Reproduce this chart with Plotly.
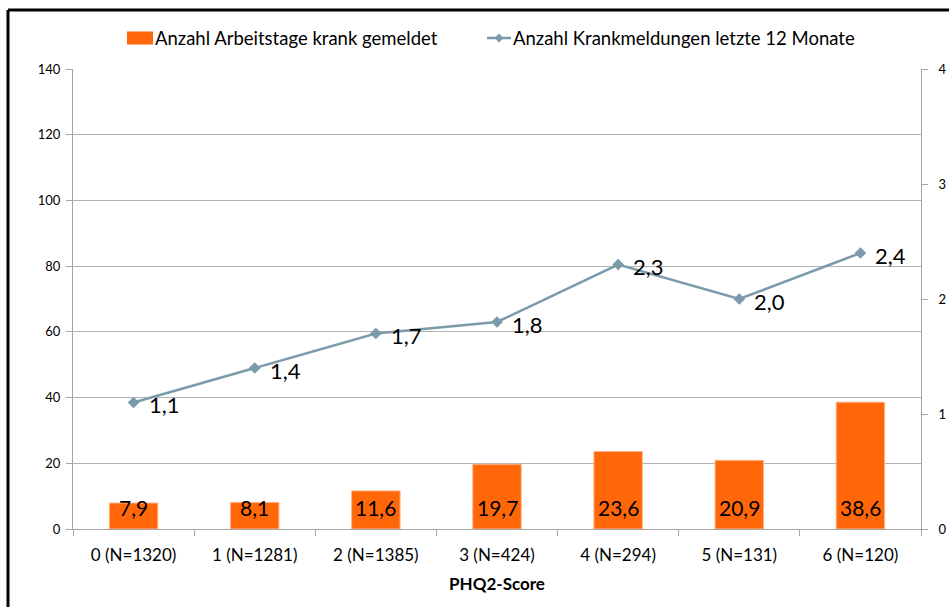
import plotly.graph_objects as go

# PHQ2 score groups with group sizes
categories = ["0 (N=1320)", "1 (N=1281)", "2 (N=1385)", "3 (N=424)",
              "4 (N=294)", "5 (N=131)", "6 (N=120)"]
sick_days = [7.9, 8.1, 11.6, 19.7, 23.6, 20.9, 38.6]
sick_notes = [1.1, 1.4, 1.7, 1.8, 2.3, 2.0, 2.4]
left_ticks = [0, 20, 40, 60, 80, 100, 120, 140]
right_ticks = [0, 1, 2, 3, 4]

name_days = "Anzahl Arbeitstage krank gemeldet"
name_notes = "Anzahl Krankmeldungen letzte 12 Monate"

FONT = "Lato, Carlito, 'Liberation Sans', sans-serif"
BAR_COLOR = "#FF6708"
LINE_COLOR = "#7B9BAB"


def de(v):
    return f"{v:.1f}".replace(".", ",")


fig = go.Figure()
fig.add_trace(go.Bar(
    x=categories, y=sick_days, name=name_days,
    marker=dict(color=BAR_COLOR, line=dict(color="#FFB38A", width=1)),
    width=0.4, yaxis="y", showlegend=False,
))
fig.add_trace(go.Scatter(
    x=categories, y=sick_notes, name=name_notes, yaxis="y2",
    mode="lines+markers", showlegend=False,
    line=dict(color=LINE_COLOR, width=2.5),
    marker=dict(symbol="diamond", size=9, color=LINE_COLOR),
))

annotations = []
# value labels at the base of each bar
for c, v in zip(categories, sick_days):
    annotations.append(dict(
        x=c, y=0, xref="x", yref="y", text=de(v), showarrow=False,
        yanchor="bottom", yshift=7, font=dict(size=21, color="black", family=FONT),
    ))
# value labels to the right of each line marker
for c, v in zip(categories, sick_notes):
    annotations.append(dict(
        x=c, y=v, xref="x", yref="y2", text=de(v), showarrow=False,
        xanchor="left", yanchor="middle", xshift=13, yshift=-2,
        font=dict(size=22, color="black", family=FONT),
    ))

# page geometry (pixels) and helpers to place items in paper coordinates
W, H = 949, 607
ml, mr, mt, mb = 73, 28, 69, 78
pw, ph = W - ml - mr, H - mt - mb


def px(x):
    return (x - ml) / pw


def py(y):
    return (H - mb - y) / ph


# frame lines along the top and left edges
shapes = [
    dict(type="line", xref="paper", yref="paper", x0=px(8), x1=px(949),
         y0=py(10), y1=py(10), line=dict(color="black", width=3)),
    dict(type="line", xref="paper", yref="paper", x0=px(8), x1=px(8),
         y0=py(10), y1=py(607), line=dict(color="black", width=3)),
]

# legend row across the top
leg_y = 38
shapes.append(dict(type="rect", xref="paper", yref="paper",
                   x0=px(127), x1=px(153), y0=py(leg_y - 6.5), y1=py(leg_y + 6.5),
                   fillcolor=BAR_COLOR, line=dict(width=0)))
shapes.append(dict(type="line", xref="paper", yref="paper",
                   x0=px(487), x1=px(511), y0=py(leg_y), y1=py(leg_y),
                   line=dict(color=LINE_COLOR, width=2.5)))
cx, d = 499, 4.5
shapes.append(dict(type="path", xref="paper", yref="paper",
                   path=(f"M {px(cx - d)} {py(leg_y)} L {px(cx)} {py(leg_y - d)} "
                         f"L {px(cx + d)} {py(leg_y)} L {px(cx)} {py(leg_y + d)} Z"),
                   fillcolor=LINE_COLOR, line=dict(width=0)))
annotations.append(dict(x=px(153), y=py(leg_y), xref="paper", yref="paper",
                        text=name_days, showarrow=False, xanchor="left", yanchor="middle",
                        font=dict(size=18.5, family=FONT, color="black")))
annotations.append(dict(x=px(511), y=py(leg_y), xref="paper", yref="paper",
                        text=name_notes, showarrow=False, xanchor="left", yanchor="middle",
                        font=dict(size=18.5, family=FONT, color="black")))

fig.update_layout(
    width=W, height=H,
    margin=dict(l=ml, r=mr, t=mt, b=mb),
    paper_bgcolor="white", plot_bgcolor="white",
    font=dict(family=FONT, color="black", size=13),
    showlegend=False,
    xaxis=dict(
        type="category", showline=True, linecolor="#A6A6A6", linewidth=1,
        ticks="outside", tickson="boundaries", ticklen=6, tickcolor="#A6A6A6",
        tickfont=dict(size=17, family=FONT), ticklabelstandoff=11,
        title=dict(text="<b>PHQ2-Score</b>", font=dict(size=17, family=FONT), standoff=13),
        showgrid=False, automargin=False,
    ),
    yaxis=dict(
        range=[0, 140], tickvals=left_ticks, showline=True, linecolor="#A6A6A6",
        ticks="outside", ticklen=6, tickcolor="#A6A6A6", ticklabelstandoff=3,
        showgrid=True, gridcolor="#B3B3B3", gridwidth=1, automargin=False,
        tickfont=dict(size=13, family=FONT), zeroline=False,
    ),
    yaxis2=dict(
        range=[0, 4], tickvals=right_ticks, overlaying="y", side="right",
        showline=True, linecolor="#A6A6A6", ticks="outside", ticklen=6,
        tickcolor="#A6A6A6", showgrid=False, zeroline=False, ticklabelstandoff=8,
        tickfont=dict(size=13, family=FONT), automargin=False,
    ),
    annotations=annotations,
    shapes=shapes,
)

fig.write_html("out.html")
